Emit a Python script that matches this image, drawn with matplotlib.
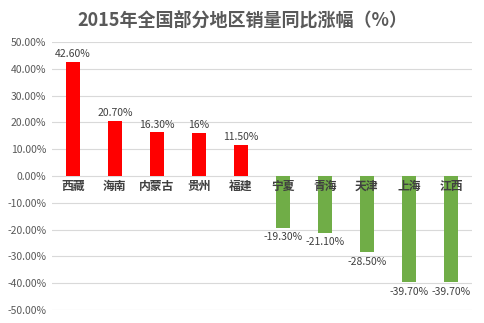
import matplotlib
matplotlib.use("Agg")
import matplotlib.pyplot as plt
import numpy as np

plt.rcParams['font.family'] = ['Noto Sans CJK SC', 'DejaVu Sans']

regions = ['西藏', '海南', '内蒙古', '贵州', '福建', '宁夏', '青海', '天津', '上海', '江西']
values = [42.6, 20.7, 16.3, 16.0, 11.5, -19.3, -21.1, -28.5, -39.7, -39.7]
labels = ['42.60%', '20.70%', '16.30%', '16%', '11.50%', '-19.30%', '-21.10%', '-28.50%', '-39.70%', '-39.70%']
yticks = [50, 40, 30, 20, 10, 0, -10, -20, -30, -40, -50]

fig = plt.figure(figsize=(4.84, 3.23), dpi=100)
ax = fig.add_axes([0.107, 0.040, 0.868, 0.830])

x = np.arange(len(regions))
colors = ['#FF0000' if v >= 0 else '#70AD47' for v in values]
ax.bar(x, values, width=0.33, color=colors, zorder=3)

ax.set_xlim(-0.5, len(regions) - 0.5)
ax.set_ylim(-50, 50)
ax.set_yticks(yticks)
ax.set_yticklabels([f'{t:.2f}%' for t in yticks], fontsize=7.5, color='#595959')
ax.tick_params(axis='y', length=0, pad=4)
ax.set_xticks([])
ax.grid(axis='y', color='#D9D9D9', linewidth=0.8, zorder=0)
for s in ax.spines.values():
    s.set_visible(False)

for xi, v, lab in zip(x, values, labels):
    if v >= 0:
        ax.annotate(lab, (xi, v), xytext=(0, 2), textcoords='offset points',
                    ha='center', va='bottom', fontsize=7.5, color='#404040')
    else:
        ax.annotate(lab, (xi, v), xytext=(0, -3), textcoords='offset points',
                    ha='center', va='top', fontsize=7.5, color='#404040')

for xi, r in zip(x, regions):
    ax.annotate(r, (xi, 0), xytext=(0, -3), textcoords='offset points',
                ha='center', va='top', fontsize=8.5, fontweight='bold', color='#404040', zorder=4)

fig.text(0.5, 0.938, '2015年全国部分地区销量同比涨幅（%）', ha='center', va='center',
         fontsize=13, fontweight='bold', color='#595959')

fig.savefig('out.png', dpi=100)
